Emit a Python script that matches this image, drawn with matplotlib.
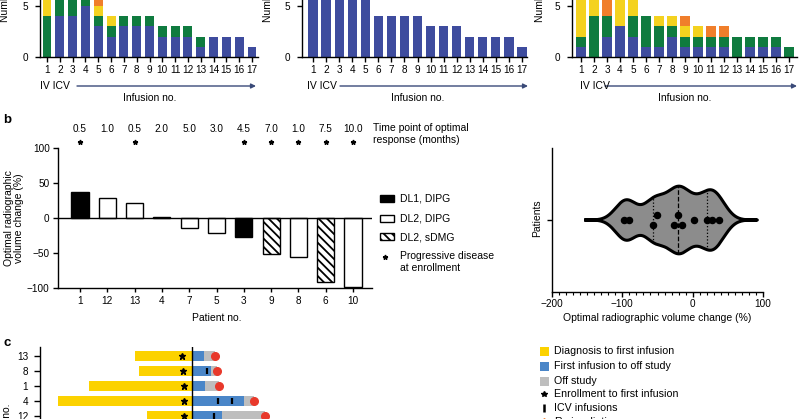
import numpy as np
import matplotlib
matplotlib.use("Agg")
import matplotlib.pyplot as plt
from matplotlib.patches import Rectangle
from matplotlib.ticker import MultipleLocator

plt.rcParams['font.family'] = ['Liberation Sans', 'DejaVu Sans']
plt.rcParams['hatch.linewidth'] = 1.3

# ---- data -------------------------------------------------------------
infusion = np.arange(1, 18)

# panel a, left
a1_blue = [0, 4, 4, 5, 3, 2, 3, 3, 3, 2, 2, 2, 1, 2, 2, 2, 1]
a1_green = [4, 2, 2, 1, 1, 1, 1, 1, 1, 1, 1, 1, 1, 0, 0, 0, 0]
a1_yellow = [2, 0, 0, 0, 1, 1, 0, 0, 0, 0, 0, 0, 0, 0, 0, 0, 0]
a1_orange = [0, 0, 0, 0, 1, 0, 0, 0, 0, 0, 0, 0, 0, 0, 0, 0, 0]
# panel a, middle
a2_blue = [6, 6, 6, 6, 6, 4, 4, 4, 4, 3, 3, 3, 2, 2, 2, 2, 1]
# panel a, right
a3_blue = [1, 0, 2, 3, 2, 1, 1, 2, 1, 1, 1, 1, 0, 1, 1, 1, 0]
a3_green = [1, 4, 2, 0, 2, 3, 2, 1, 1, 1, 1, 1, 2, 1, 1, 1, 1]
a3_yellow = [4, 2, 0, 3, 2, 0, 1, 1, 1, 1, 0, 0, 0, 0, 0, 0, 0]
a3_orange = [0, 0, 2, 0, 0, 0, 0, 0, 1, 0, 1, 1, 0, 0, 0, 0, 0]

# panel b
patients = ['1', '12', '13', '4', '7', '5', '3', '9', '8', '6', '10']
vol_change = [37, 28, 21, 2, -15, -21, -27, -51, -56, -91, -98]
cohort = ['DL1', 'DL2', 'DL2', 'DL1', 'DL2', 'DL2', 'DL1', 'sDMG', 'DL2', 'sDMG', 'DL2']
time_point = ['0.5', '1.0', '0.5', '2.0', '5.0', '3.0', '4.5', '7.0', '1.0', '7.5', '10.0']
progressive = [1, 0, 1, 0, 0, 0, 1, 1, 1, 1, 1]

# panel c (months relative to first infusion)
c_patients = ['13', '8', '1', '4', '12']
diag_to_inf = [2.85, 2.65, 5.15, 6.7, 2.25]
inf_to_off = [0.6, 0.95, 0.65, 2.6, 1.5]
off_end = [1.15, 1.25, 1.35, 3.1, 3.65]
enroll = [-0.5, -0.45, -0.42, -0.4, -0.42]
icv_times = [[], [0.73], [], [1.3, 2.0], [1.1]]

# ---- style ------------------------------------------------------------
BLUE, GREEN, YELLOW, ORANGE = "#3e4c9e", "#0f7b3f", "#f4d21f", "#f07e2b"
ARROW = "#3a4a78"
C_YEL, C_BLU, C_GRY, C_RED = "#fcd200", "#4a86c8", "#bebebe", "#e8392b"
FS = 7.2

W, H = 800, 419
fig = plt.figure(figsize=(W / 100, H / 100), dpi=100)


def fx(x):
    return x / W


def fy(y):
    return 1 - y / H


def box(l, t, r, b):
    return fig.add_axes([l / W, 1 - b / H, (r - l) / W, (b - t) / H])


def clean(ax, keep=("left", "bottom")):
    for s in ("left", "bottom", "top", "right"):
        ax.spines[s].set_visible(s in keep)
        ax.spines[s].set_linewidth(1)
    ax.tick_params(labelsize=FS, width=1, length=3.5, pad=2.5)


# ---- a: infusion panels ----------------------------------------------
def infusion_panel(l, r, x1, x17, stacks, txt_x, arr_x0, arr_x1, ylab_x):
    ax = box(l, 57 - 7 * 10.2, r, 57)
    slope = (x17 - x1) / 16
    ax.set_xlim(1 - (x1 - l) / slope, 17 + (r - x17) / slope)
    ax.set_ylim(0, 7)
    bottom = np.zeros(17)
    for vals, col in stacks:
        vals = np.asarray(vals, float)
        ax.bar(infusion, vals, 0.7, bottom=bottom, color=col, lw=0)
        bottom += vals
    clean(ax)
    ax.set_xticks(infusion)
    ax.set_yticks([0, 5])
    ax.tick_params(axis="x", length=3.5, pad=2.5)
    ax.tick_params(axis="y", pad=5)
    fig.text(fx(txt_x), fy(86), "IV ICV", fontsize=FS + 0.3, ha="left", va="center")
    ax.annotate("", xy=(fx(arr_x1), fy(86)), xytext=(fx(arr_x0), fy(86)),
                xycoords="figure fraction",
                arrowprops=dict(arrowstyle="-|>", color=ARROW, lw=1,
                                mutation_scale=7, shrinkA=0, shrinkB=0))
    fig.text(fx((x1 + x17) / 2), fy(98), "Infusion no.", fontsize=FS + 0.3,
             ha="center", va="center")
    fig.text(fx(ylab_x), fy(22), "Number of patients", fontsize=FS + 0.3,
             rotation=90, ha="center", va="bottom")


infusion_panel(40, 258, 47, 252,
               [(a1_blue, BLUE), (a1_green, GREEN), (a1_yellow, YELLOW), (a1_orange, ORANGE)],
               40, 77, 256, 5)
infusion_panel(302, 527, 313, 522, [(a2_blue, BLUE)], 307, 340, 528, 268)
infusion_panel(572, 797, 581, 789,
               [(a3_blue, BLUE), (a3_green, GREEN), (a3_yellow, YELLOW), (a3_orange, ORANGE)],
               580, 605, 797, 540)

# ---- b: waterfall -------------------------------------------------------
axb = box(58, 148, 372, 288)
xb = np.arange(len(patients))
axb.set_xlim(-22 / 27.3, 10 + 19 / 27.3)
axb.set_ylim(-100, 100)
styles = {"DL1": ("black", ""), "DL2": ("white", ""), "sDMG": ("white", "\\\\\\\\")}
for i, (v, g) in enumerate(zip(vol_change, cohort)):
    fc, hatch = styles[g]
    axb.bar(xb[i], v, 0.63, color=fc, edgecolor="black", lw=1, hatch=hatch, zorder=2)
axb.axhline(0, color="black", lw=1, zorder=3)
clean(axb)
axb.set_xticks(xb)
axb.set_xticklabels(patients)
axb.set_yticks([-100, -50, 0, 50, 100])
axb.tick_params(axis="x", length=3, pad=2.5)
for i, t in enumerate(time_point):
    axb.text(xb[i], 127, t, fontsize=FS, ha="center", va="center", clip_on=False)
    if progressive[i]:
        axb.plot(xb[i], 109, marker="*", ms=3.5, color="black", clip_on=False)

fig.text(fx(3), fy(120), "b", fontsize=9.5, fontweight="bold", va="center")
fig.text(fx(14), fy(218), "Optimal radiographic\nvolume change (%)", fontsize=FS + 0.3,
         rotation=90, ha="center", va="center", linespacing=1.1)
fig.text(fx(217), fy(318), "Patient no.", fontsize=FS + 0.3, ha="center", va="center")
fig.text(fx(373), fy(123), "Time point of optimal\nresponse (months)", fontsize=FS + 0.3,
         ha="left", va="top", linespacing=1.25)

leg_b = [("black", "", "DL1, DIPG", 198), ("white", "", "DL2, DIPG", 218),
         ("white", "\\\\\\\\", "DL2, sDMG", 237)]
for fc, hatch, lab, yy in leg_b:
    fig.add_artist(Rectangle((fx(380), fy(yy + 3.5)), 14 / W, 7 / H, transform=fig.transFigure,
                             facecolor=fc, edgecolor="black", lw=1, hatch=hatch))
    fig.text(fx(400), fy(yy), lab, fontsize=FS + 0.3, va="center")
fig.add_artist(plt.Line2D([fx(385)], [fy(257)], marker="*", ms=3.5, color="black",
                          transform=fig.transFigure))
fig.text(fx(400), fy(251), "Progressive disease\nat enrollment", fontsize=FS + 0.3,
         va="top", linespacing=1.2)

# ---- b: violin ----------------------------------------------------------
axv = box(552, 148, 763, 292)
axv.set_xlim(-200, 100)
axv.set_ylim(-1, 1)
vals = np.asarray(vol_change, float)
bw = 14.5
grid = np.linspace(vals.min() - 54, vals.max() + 55, 500)
dens = np.exp(-0.5 * ((grid[:, None] - vals[None, :]) / bw) ** 2).sum(axis=1)
half = dens / dens.max() * 0.47
axv.fill_between(grid, -half, half, color="#8c8c8c", lw=0, zorder=1)
axv.plot(np.r_[grid, grid[::-1], grid[:1]], np.r_[half, -half[::-1], half[:1]],
         color="black", lw=2.2, zorder=3, solid_joinstyle="round")
q1, med, q3 = np.percentile(vals, [25, 50, 75], method="weibull")
for q, ls in ((q1, ":"), (med, "--"), (q3, ":")):
    h = np.interp(q, grid, half)
    axv.plot([q, q], [-h, h], ls=ls, color="black", lw=0.9, zorder=2)


def swarm_offsets(v, gap):
    order = np.argsort(v)
    offs = np.zeros(len(v))
    clusters, cur = [], [order[0]]
    for a, b in zip(order[:-1], order[1:]):
        if v[b] - v[a] < gap:
            cur.append(b)
        else:
            clusters.append(cur)
            cur = [b]
    clusters.append(cur)
    for c in clusters:
        if len(c) > 1:
            for k, idx in enumerate(c):
                offs[idx] = -1 if k % 2 == 0 else 1
    return offs


yoff = swarm_offsets(vals, 6.5) * 0.075
axv.plot(vals, yoff, "o", color="black", ms=4.4, zorder=4, lw=0)
clean(axv)
axv.set_xticks([-200, -100, 0, 100])
axv.xaxis.set_minor_locator(MultipleLocator(10))
axv.tick_params(axis="x", which="major", length=3.5, pad=1.5)
axv.tick_params(axis="x", which="minor", length=2, width=0.8)
axv.set_yticks([0])
axv.set_yticklabels([])
fig.text(fx(537), fy(218), "Patients", fontsize=FS + 0.3, rotation=90, ha="center", va="center")
fig.text(fx(657), fy(318), "Optimal radiographic volume change (%)", fontsize=FS + 0.3,
         ha="center", va="center")

# ---- c: swimmer plot ---------------------------------------------------
axc = box(40, 347, 400, 460)
yc = np.arange(len(c_patients))
axc.set_ylim((460 - 356) / 15, -0.6)
axc.set_xlim(-152 / 20, 208 / 20)
axc.barh(yc, -np.asarray(diag_to_inf), 0.73, color=C_YEL, lw=0)
axc.barh(yc, np.asarray(off_end) - np.asarray(inf_to_off), 0.73,
         left=inf_to_off, color=C_GRY, lw=0)
axc.barh(yc, inf_to_off, 0.73, color=C_BLU, lw=0)
axc.axvline(0, color="black", lw=1)
axc.plot(enroll, yc, "*", color="black", ms=4.5, lw=0)
for i, ts in enumerate(icv_times):
    if ts:
        axc.plot(ts, [yc[i]] * len(ts), "|", color="black", ms=4, mew=1.6)
axc.plot(off_end, yc, "o", color=C_RED, ms=5.5, lw=0, clip_on=False, zorder=5)
clean(axc, keep=("left",))
axc.set_xticks([])
axc.set_yticks(yc)
axc.set_yticklabels(c_patients)
axc.tick_params(axis="y", length=4.5, pad=4)
fig.text(fx(3), fy(343), "c", fontsize=9.5, fontweight="bold", va="center")
fig.text(fx(7), fy(403), "Patient no.", fontsize=FS + 0.3, rotation=90, ha="center", va="top")

leg_c = [(C_YEL, "Diagnosis to first infusion", 351), (C_BLU, "First infusion to off study", 366),
         (C_GRY, "Off study", 381)]
for col, lab, yy in leg_c:
    fig.add_artist(Rectangle((fx(539.5), fy(yy + 4.5)), 9 / W, 9 / H, transform=fig.transFigure,
                             facecolor=col, lw=0))
    fig.text(fx(554), fy(yy), lab, fontsize=FS + 0.5, va="center")
fig.add_artist(plt.Line2D([fx(544)], [fy(394)], marker="*", ms=4, color="black",
                          transform=fig.transFigure))
fig.text(fx(554), fy(394), "Enrollment to first infusion", fontsize=FS + 0.5, va="center")
fig.add_artist(plt.Line2D([fx(544)], [fy(408)], marker="|", ms=6, mew=1.8, color="black",
                          transform=fig.transFigure))
fig.text(fx(554), fy(408), "ICV infusions", fontsize=FS + 0.5, va="center")
fig.add_artist(plt.Line2D([fx(544)], [fy(421)], marker="*", ms=4, color=ORANGE,
                          transform=fig.transFigure))
fig.text(fx(554), fy(422), "Re-irradiation", fontsize=FS + 0.5, va="center")

fig.savefig("out.png", dpi=100)
